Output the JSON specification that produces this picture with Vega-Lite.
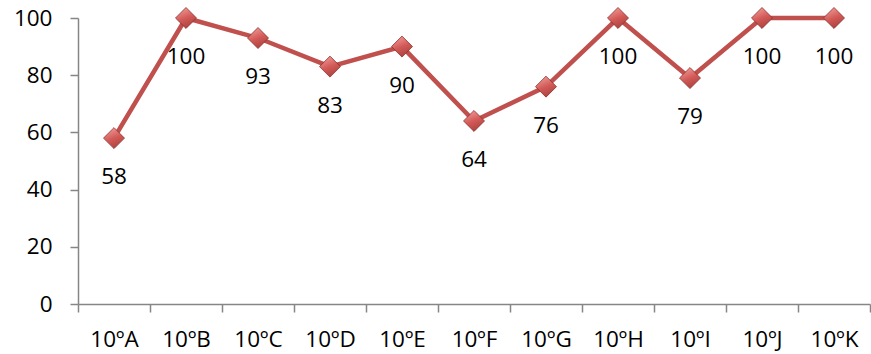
{
  "$schema": "https://vega.github.io/schema/vega-lite/v6.json",
  "width": 792,
  "height": 286,
  "autosize": {"type": "none"},
  "padding": {"left": 78, "top": 18, "right": 1, "bottom": 50},
  "background": "white",
  "config": {"view": {"stroke": null}, "font": "Open Sans"},
  "data": {"values": [
    {"turma": "10ºA", "valor": 58},
    {"turma": "10ºB", "valor": 100},
    {"turma": "10ºC", "valor": 93},
    {"turma": "10ºD", "valor": 83},
    {"turma": "10ºE", "valor": 90},
    {"turma": "10ºF", "valor": 64},
    {"turma": "10ºG", "valor": 76},
    {"turma": "10ºH", "valor": 100},
    {"turma": "10ºI", "valor": 79},
    {"turma": "10ºJ", "valor": 100},
    {"turma": "10ºK", "valor": 100}
  ]},
  "encoding": {
    "x": {"field": "turma", "type": "nominal", "sort": null,
      "scale": {"type": "band", "paddingInner": 0, "paddingOuter": 0},
      "axis": {"title": null, "labelAngle": 0, "tickBand": "extent", "domainColor": "#868686", "tickColor": "#868686", "tickSize": 8, "domainWidth": 1.5, "tickWidth": 1.5, "labelFontSize": 22.5, "labelColor": "#000000", "labelPadding": 16, "labelFont": "Open Sans"}},
    "y": {"field": "valor", "type": "quantitative",
      "scale": {"domain": [0, 100]},
      "axis": {"title": null, "values": [0, 20, 40, 60, 80, 100], "grid": false, "domainColor": "#868686", "tickColor": "#868686", "tickSize": 8, "domainWidth": 1.5, "tickWidth": 1.5, "labelFontSize": 22.5, "labelColor": "#000000", "labelPadding": 18, "labelFont": "Open Sans"}}
  },
  "layer": [
    {"mark": {"type": "line", "color": "#C0504D", "strokeWidth": 4.5}},
    {"mark": {"type": "point", "shape": "diamond", "size": 440, "filled": true, "opacity": 1,
      "fill": {"gradient": "linear", "x1": 0.3, "y1": 0, "x2": 0.7, "y2": 1, "stops": [{"offset": 0, "color": "#F09A98"}, {"offset": 0.5, "color": "#D25A57"}, {"offset": 1, "color": "#A8403D"}]},
      "stroke": "#8C2E2B", "strokeWidth": 0.8}},
    {"mark": {"type": "text", "dy": 39, "baseline": "middle", "align": "center", "fontSize": 22.5, "color": "#000000", "font": "Open Sans"},
      "encoding": {"text": {"field": "valor", "type": "quantitative"}}}
  ]
}
